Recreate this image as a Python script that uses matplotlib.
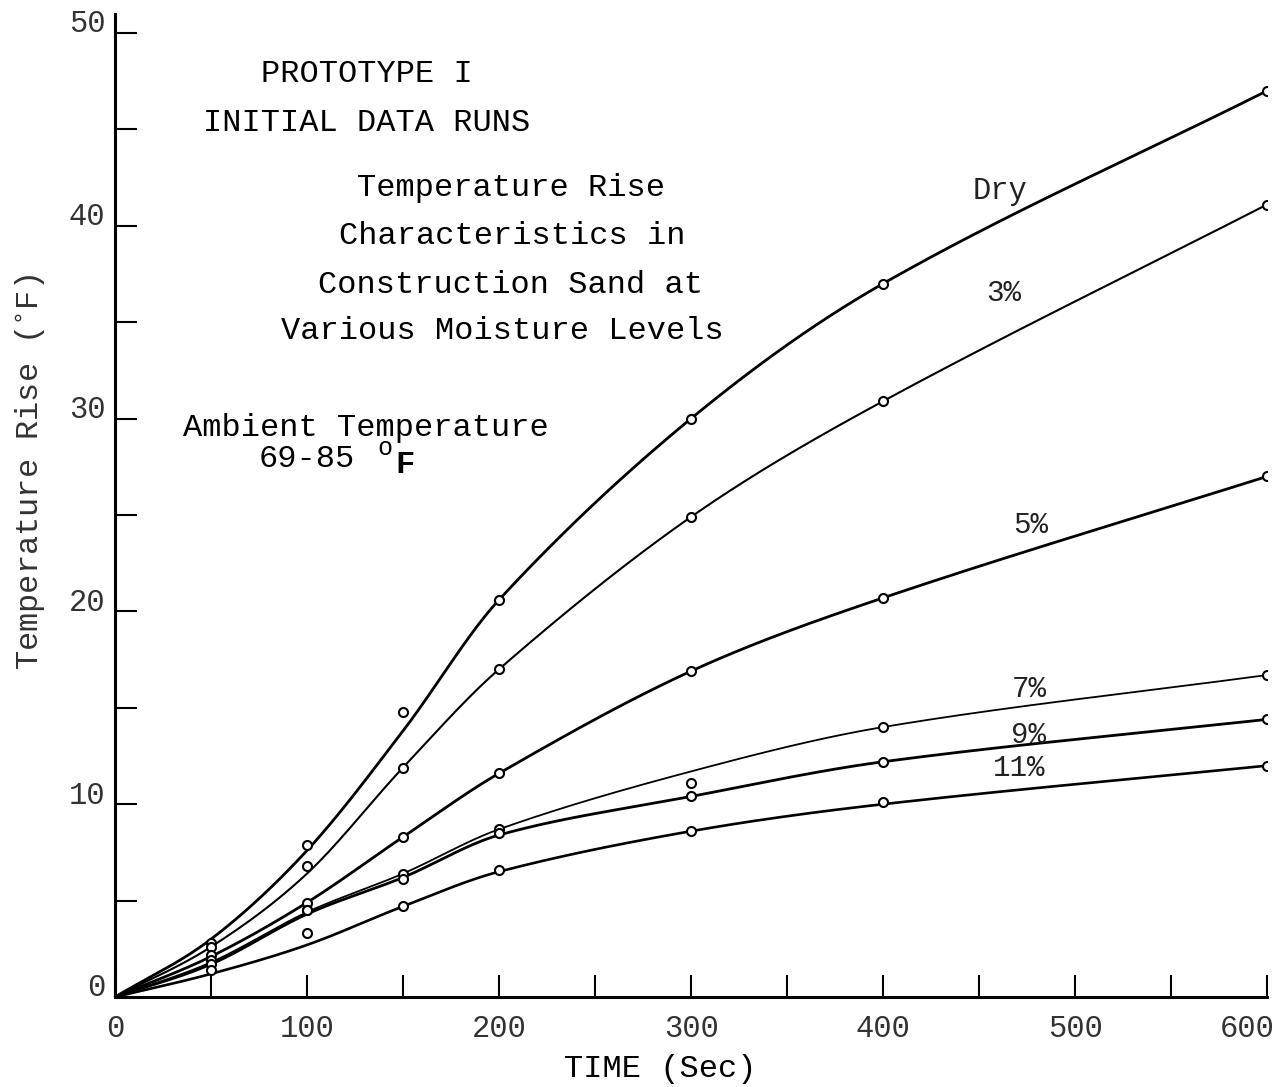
import matplotlib.pyplot as plt
import matplotlib.transforms as mtransforms
import numpy as np

plt.rcParams['font.family'] = ['Liberation Mono', 'DejaVu Sans Mono']

# tiempos medidos (s)
tiempo = [0, 50, 100, 150, 200, 300, 400, 600]

seco = [0, 2.8, 7.9, 14.8, 20.6, 30.0, 37.0, 47.0]
h3 = [0, 2.6, 6.8, 11.9, 17.0, 24.9, 30.9, 41.1]
h5 = [0, 2.2, 4.9, 8.3, 11.6, 16.9, 20.7, 27.0]
h7 = [0, 1.9, 4.5, 6.4, 8.7, 11.1, 14.0, 16.7]
h9 = [0, 1.7, 4.5, 6.1, 8.5, 10.4, 12.2, 14.4]
h11 = [0, 1.4, 3.3, 4.7, 6.6, 8.6, 10.1, 12.0]

# curvas trazadas a mano (valor de la linea en cada tiempo)
seco_c = [0, 3.0, 7.6, 13.8, 20.6, 30.0, 37.0, 47.0]
h3_c = [0, 2.6, 6.4, 11.9, 17.0, 24.9, 30.9, 41.1]
h5_c = [0, 2.1, 4.9, 8.3, 11.6, 16.9, 20.7, 27.0]
h7_c = [0, 1.8, 4.4, 6.4, 8.7, 11.7, 14.0, 16.7]
h9_c = [0, 1.7, 4.3, 6.2, 8.4, 10.4, 12.2, 14.4]
h11_c = [0, 1.2, 2.7, 4.7, 6.5, 8.6, 10.0, 12.0]

etiquetas = ['Dry', '3%', '5%', '7%', '9%', '11%']
puntos = [seco, h3, h5, h7, h9, h11]
curvas = [seco_c, h3_c, h5_c, h7_c, h9_c, h11_c]
grosor = [2.0, 1.5, 2.0, 1.3, 2.0, 1.9]
pos_etiq = [(461, 41.8), (463, 36.5), (477, 24.5), (476, 16.0), (476, 13.6), (471, 11.9)]
tam_etiq = [22, 21, 21, 21, 21, 21]


def suave(x, y, xs):
    # spline cubica de Hermite con pendientes centrales
    x = np.asarray(x, float)
    y = np.asarray(y, float)
    h = np.diff(x)
    m = np.empty_like(y)
    m[1:-1] = (y[2:] - y[:-2]) / (x[2:] - x[:-2])
    m[0] = (y[1] - y[0]) / h[0]
    m[-1] = (y[-1] - y[-2]) / h[-1]
    i = np.clip(np.searchsorted(x, xs) - 1, 0, len(x) - 2)
    t = (xs - x[i]) / h[i]
    h00 = 2*t**3 - 3*t**2 + 1
    h10 = t**3 - 2*t**2 + t
    h01 = -2*t**3 + 3*t**2
    h11 = t**3 - t**2
    return h00*y[i] + h10*h[i]*m[i] + h01*y[i+1] + h11*h[i]*m[i+1]


fig = plt.figure(figsize=(12.85, 10.87), dpi=100)
ax = fig.add_axes([0.0895, 0.0828, 0.8965, 0.9046])

xs = np.linspace(0, 600, 400)
for c, p, lw in zip(curvas, puntos, grosor):
    ax.plot(xs, suave(tiempo, c, xs), color='black', lw=lw, zorder=2)
    ax.plot(tiempo[1:], p[1:], 'o', ms=6.5, mfc='white', mec='black', mew=1.5, zorder=3)

for (px, py), t, fs in zip(pos_etiq, etiquetas, tam_etiq):
    ax.text(px, py, t, fontsize=fs, ha='center', va='center', color='#222222')

# textos del titulo
ax.text(131, 47.85, 'PROTOTYPE I', fontsize=23, ha='center', va='center')
ax.text(131, 45.35, 'INITIAL DATA RUNS', fontsize=23, ha='center', va='center')
ax.text(206, 41.95, 'Temperature Rise', fontsize=23, ha='center', va='center')
ax.text(207, 39.45, 'Characteristics in', fontsize=23, ha='center', va='center')
ax.text(206, 36.95, 'Construction Sand at', fontsize=23, ha='center', va='center')
ax.text(201.5, 34.55, 'Various Moisture Levels', fontsize=23, ha='center', va='center')
ax.text(130.5, 29.5, 'Ambient Temperature', fontsize=23, ha='center', va='center')
ax.text(100, 27.9, '69-85', fontsize=23, ha='center', va='center')
ax.text(140.6, 28.5, 'o', fontsize=18, ha='center', va='center')
ax.text(151, 27.6, 'F', fontsize=23, ha='center', va='center', fontweight='bold')

ax.set_xlim(0, 600)
ax.set_ylim(0, 51)
ax.set_xticks(range(0, 601, 100))
ax.set_xticks(range(0, 601, 50), minor=True)
ax.set_yticks(range(0, 51, 10))
ax.set_yticks(range(0, 51, 5), minor=True)
ax.tick_params(which='both', direction='in', length=16, width=1.5, labelsize=22,
               labelcolor='#333333', pad=12)
ax.tick_params(axis='y', pad=7)
for s in ['top', 'right']:
    ax.spines[s].set_visible(False)
for s in ['left', 'bottom']:
    ax.spines[s].set_linewidth(2.2)
ax.margins(0)

# etiquetas del eje y un poco arriba de la marca, y el 600 hacia dentro
arriba = mtransforms.ScaledTranslation(0, 12/100, fig.dpi_scale_trans)
for lbl in ax.get_yticklabels():
    lbl.set_transform(lbl.get_transform() + arriba)
izq = mtransforms.ScaledTranslation(-20/100, 0, fig.dpi_scale_trans)
ultimo = ax.get_xticklabels()[-1]
ultimo.set_transform(ultimo.get_transform() + izq)

ax.set_xlabel('TIME (Sec)', fontsize=23)
ax.xaxis.set_label_coords(0.473, -0.058)
ax.set_ylabel('Temperature Rise ($^{\\circ}$F)', fontsize=23, color='#333333')
ax.yaxis.set_label_coords(-0.058, 0.534)

fig.savefig('out.png', dpi=100)
